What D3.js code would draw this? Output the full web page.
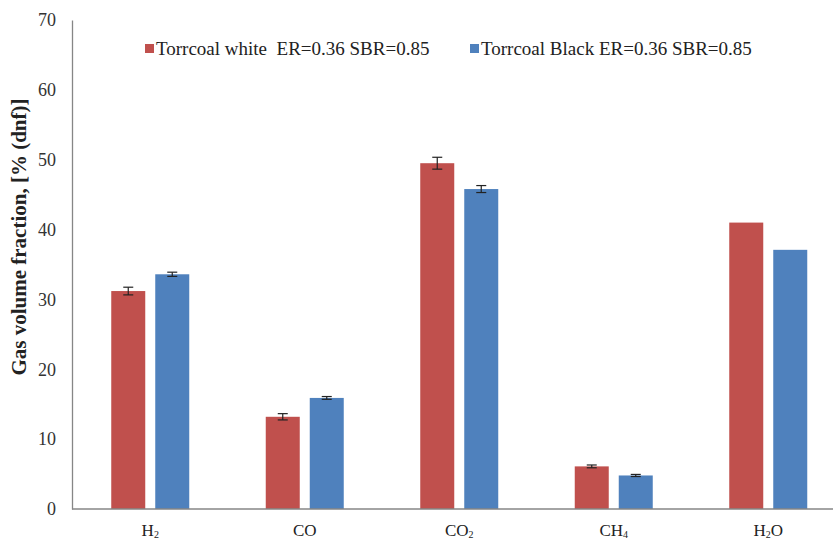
<!DOCTYPE html>
<html>
  <head>
    <meta charset="utf-8">
    <title>Gas volume fraction</title>
    <script src="https://d3js.org/d3.v7.min.js"></script>
    <style>
      body { margin: 0; background: #fff; }
      svg { font-family: "Liberation Serif", "Times New Roman", serif; }
      .xlab { font-size: 17px; fill: #222; }
      .legend text { font-size: 19px; fill: #222; }
    </style>
  </head>
  <body>
    <svg id="chart" width="833" height="541"></svg>
    <script>
      // data
      gases = ["H2", "CO", "CO2", "CH4", "H2O"];
      // label pieces: [main, subscript, rest]
      gasLabels = [["H", "2", ""], ["CO", "", ""], ["CO", "2", ""], ["CH", "4", ""], ["H", "2", "O"]];
      seriesNames = ["Torrcoal white  ER=0.36 SBR=0.85", "Torrcoal Black ER=0.36 SBR=0.85"];
      whiteValues = [31.2, 13.2, 49.5, 6.1, 41.0];
      whiteErrors = [0.55, 0.45, 0.85, 0.2, 0];
      blackValues = [33.6, 15.9, 45.8, 4.8, 37.1];
      blackErrors = [0.3, 0.2, 0.5, 0.15, 0];
      yTicks = [0, 10, 20, 30, 40, 50, 60, 70];
      colors = ["#C0504D", "#4F81BD"];

      chart = d3.select("#chart");
      // scales
      x = d3.scaleBand().domain(gases).range([73, 73 + 5 * 154.5]);
      y = d3.scaleLinear().domain([0, 70]).range([509, 20]);
      barW = 34;
      gap = 10;

      // y axis
      yAxis = chart.append("g")
        .attr("transform", "translate(72,0)")
        .call(d3.axisLeft(y).tickValues(yTicks).tickSize(0).tickPadding(16));
      yAxis.select(".domain").attr("stroke", "#868686").attr("stroke-width", 1.3);
      yAxis.selectAll(".tick text")
        .style("font-family", "'Liberation Serif', serif")
        .style("font-size", "18px")
        .attr("fill", "#333");

      // bars
      series = [
        { name: seriesNames[0], values: whiteValues, errors: whiteErrors, off: -gap / 2 - barW },
        { name: seriesNames[1], values: blackValues, errors: blackErrors, off: gap / 2 }
      ];
      series.forEach(function(s, si) {
        var g = chart.append("g");
        g.selectAll("rect")
            .data(gases)
          .enter().append("rect")
            .attr("x", function(d) { return x(d) + x.bandwidth() / 2 + s.off; })
            .attr("y", function(d, i) { return y(s.values[i]); })
            .attr("width", barW)
            .attr("height", function(d, i) { return y(0) - y(s.values[i]); })
            .attr("fill", colors[si]);
        var errs = g.selectAll(".err")
            .data(gases.filter(function(d, i) { return s.errors[i] > 0; }))
          .enter().append("g")
            .classed("err", true)
            .attr("stroke", "#222")
            .attr("stroke-width", 1.2);
        errs.each(function(d) {
          var i = gases.indexOf(d);
          var cx = x(d) + x.bandwidth() / 2 + s.off + barW / 2;
          var yHi = y(s.values[i] + s.errors[i]);
          var yLo = y(s.values[i] - s.errors[i]);
          var e = d3.select(this);
          e.append("line").attr("x1", cx).attr("x2", cx).attr("y1", yHi).attr("y2", yLo);
          e.append("line").attr("x1", cx - 5).attr("x2", cx + 5).attr("y1", yHi).attr("y2", yHi);
          e.append("line").attr("x1", cx - 5).attr("x2", cx + 5).attr("y1", yLo).attr("y2", yLo);
        });
      });

      // x axis line
      chart.append("line")
        .attr("x1", 72).attr("x2", 833)
        .attr("y1", y(0)).attr("y2", y(0))
        .attr("stroke", "#868686").attr("stroke-width", 1.3);

      // x labels with subscripts
      xl = chart.selectAll(".xlab")
          .data(gases)
        .enter().append("text")
          .classed("xlab", true)
          .attr("x", function(d) { return x(d) + x.bandwidth() / 2; })
          .attr("y", 536)
          .attr("text-anchor", "middle");
      xl.each(function(d, i) {
        var t = d3.select(this);
        var p = gasLabels[i];
        t.append("tspan").text(p[0]);
        if (p[1]) t.append("tspan").attr("font-size", "10px").attr("dy", 2).text(p[1]);
        if (p[2]) t.append("tspan").attr("dy", -2).text(p[2]);
      });

      // y title
      chart.append("text")
        .attr("transform", "translate(26,237) rotate(-90)")
        .attr("text-anchor", "middle")
        .attr("font-size", "21px")
        .attr("font-weight", "bold")
        .attr("fill", "#222")
        .text("Gas volume fraction, [% (dnf)]");

      // legend
      legendX = [145, 470];
      leg = chart.selectAll(".legend")
          .data(series)
        .enter().append("g")
          .classed("legend", true)
          .attr("transform", function(d, i) { return "translate(" + legendX[i] + ",44)"; });
      leg.append("rect")
        .attr("width", 9).attr("height", 9)
        .attr("fill", function(d, i) { return colors[i]; });
      leg.append("text")
        .attr("x", 11).attr("y", 11)
        .attr("xml:space", "preserve")
        .style("white-space", "pre")
        .text(function(d) { return d.name; });
    </script>
  </body>
</html>
